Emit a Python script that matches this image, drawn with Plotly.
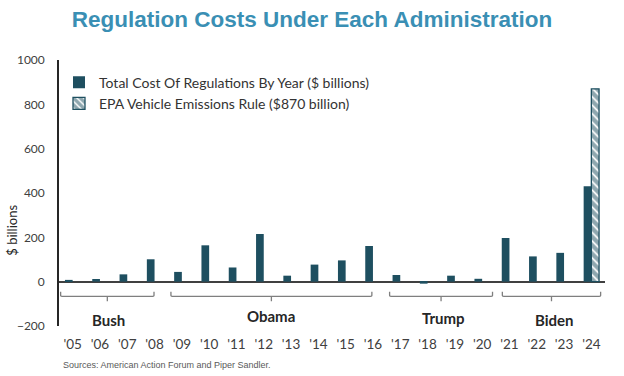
import plotly.graph_objects as go

# ---- data ----
years = ["'05", "'06", "'07", "'08", "'09", "'10", "'11", "'12", "'13", "'14",
         "'15", "'16", "'17", "'18", "'19", "'20", "'21", "'22", "'23", "'24"]
total_cost = [8, 12, 33, 101, 44, 164, 64, 215, 27, 77,
              96, 161, 30, -9, 27, 13, 197, 114, 130, 430]
epa_years = ["'24"]
epa_cost = [870]
admins = ["Bush", "Obama", "Trump", "Biden"]
y_ticks = [-200, 0, 200, 400, 600, 800, 1000]

# ---- styling ----
BAR = "#1e4f60"
TEXT = "#404040"
FONT = "Lato"

xi = list(range(len(years)))
epa_x = [years.index(y) for y in epa_years]

fig = go.Figure()
fig.add_trace(go.Bar(
    x=xi, y=total_cost, name="Total Cost Of Regulations By Year ($ billions)",
    marker=dict(color=BAR, line=dict(width=0)),
))
fig.add_trace(go.Bar(
    x=epa_x, y=epa_cost, name="EPA Vehicle Emissions Rule ($870 billion)",
    marker=dict(color="white", line=dict(color=BAR, width=1.3),
                pattern=dict(shape="\\", fgcolor=BAR, bgcolor="white",
                             size=6, solidity=0.7)),
))

# brackets (hand-placed spans in category units) and administration labels
spans = [(-0.44, 2.98), (3.60, 10.96), (11.61, 15.38), (15.74, 19.34)]
label_y = [-171, -155, -163, -171]
label_dx = [0.05, 0.0, 0.1, 0.12]
for name, (x0, x1), ly, dx in zip(admins, spans, label_y, label_dx):
    mid = (x0 + x1) / 2
    path = (f"M {x0},-46 L {x0},-62 Q {x0},-66 {x0+0.12},-66 "
            f"L {x1-0.12},-66 Q {x1},-66 {x1},-62 L {x1},-46 "
            f"M {mid},-66 L {mid},-88")
    fig.add_shape(type="path", path=path, xref="x", yref="y",
                  line=dict(color="#7f7f7f", width=1.3))
    fig.add_annotation(x=mid + dx, y=ly, xref="x", yref="y", text=f"<b>{name}</b>",
                       showarrow=False, font=dict(family=FONT, size=15, color="#262626"))

fig.add_annotation(text="$ billions", textangle=-90, xref="paper", yref="y",
                   x=-0.086, y=230, showarrow=False, xanchor="center", yanchor="middle",
                   font=dict(family=FONT, size=13, color="#262626"))
fig.add_annotation(text="Sources: American Action Forum and Piper Sandler.",
                   xref="paper", yref="paper", x=0.003, y=-0.147,
                   xanchor="left", yanchor="middle", showarrow=False,
                   font=dict(family="Liberation Sans", size=9, color="#595959"))

fig.update_layout(
    width=624, height=376,
    margin=dict(l=59, r=19, t=60, b=50, autoexpand=False),
    paper_bgcolor="white", plot_bgcolor="white",
    barmode="group", bargap=0.436, bargroupgap=0,
    title=dict(text="<b>Regulation Costs Under Each Administration</b>",
               x=0.5, xanchor="center", xref="container", y=0.95, yanchor="middle",
               font=dict(family="Liberation Sans", size=22.5, color="#3a8fb4")),
    legend=dict(x=0.0, y=0.975, xanchor="left", yanchor="top",
                bgcolor="rgba(0,0,0,0)", font=dict(family=FONT, size=14, color="#333333"),
                tracegroupgap=0, itemwidth=30),
    showlegend=True,
    xaxis=dict(tickmode="array", tickvals=xi, ticktext=years,
               range=[-0.5, len(years) - 0.5], showgrid=False, zeroline=False,
               showline=False, ticks="", ticklabelstandoff=8,
               tickfont=dict(family=FONT, size=13.5, color=TEXT)),
    yaxis=dict(range=[-200, 1000], tickvals=y_ticks, showgrid=False,
               zeroline=True, zerolinecolor="#404040", zerolinewidth=1.6,
               showline=True, linecolor="#262626", linewidth=1.6,
               ticks="", ticklabelstandoff=10,
               tickfont=dict(family=FONT, size=12, color=TEXT)),
)

fig.write_html("out.html", config={"displayModeBar": False},
               post_script="document.body.style.margin='0';")
